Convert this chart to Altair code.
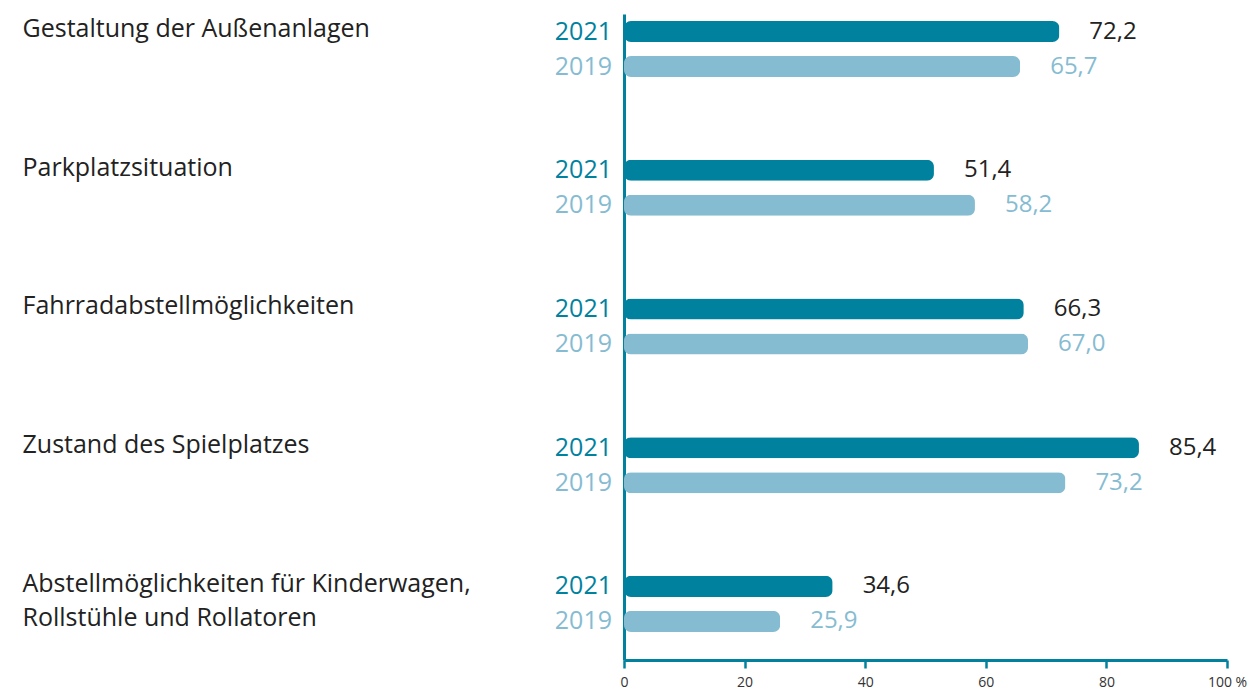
import altair as alt
import pandas as pd

categories = [
    "Gestaltung der Außenanlagen",
    "Parkplatzsituation",
    "Fahrradabstellmöglichkeiten",
    "Zustand des Spielplatzes",
    "Abstellmöglichkeiten für Kinderwagen, Rollstühle und Rollatoren",
]
years = ["2021", "2019"]
values_2021 = [72.2, 51.4, 66.3, 85.4, 34.6]
values_2019 = [65.7, 58.2, 67.0, 73.2, 25.9]
x_ticks = [0, 20, 40, 60, 80, 100]

rows = []
for c, a, b in zip(categories, values_2021, values_2019):
    rows.append({"cat": c, "year": "2021", "value": a})
    rows.append({"cat": c, "year": "2019", "value": b})
df = pd.DataFrame(rows)
df["label"] = df["value"].map(lambda v: f"{v:.1f}".replace(".", ","))

TEAL = "#00829f"
LIGHT = "#86bcd1"
FONT = "Open Sans"

y_enc = alt.Y(
    "cat:N",
    sort=categories,
    scale=alt.Scale(paddingInner=0.495, paddingOuter=0.076, align=0),
    axis=alt.Axis(
        title=None,
        domainColor=TEAL,
        domainWidth=3,
        ticks=False,
        labelAlign="left",
        labelPadding=602,
        labelFontSize=25,
        labelFont=FONT,
        labelColor="#222222",
        labelBaseline="top",
        labelOffset=-32,
        labelLineHeight=34,
        labelLimit=0,
        labelExpr="indexof(datum.label, ', ') > 0 ? [substring(datum.label, 0, indexof(datum.label, ', ') + 1), substring(datum.label, indexof(datum.label, ', ') + 2)] : datum.label",
    ),
)
yoff_enc = alt.YOffset(
    "year:N", sort=years, scale=alt.Scale(paddingInner=0.4, paddingOuter=0.2)
)

base = alt.Chart(df).encode(y=y_enc, yOffset=yoff_enc)

x_enc = alt.X(
    "value:Q",
    scale=alt.Scale(domain=[0, 100], nice=False),
    axis=alt.Axis(
        title=None,
        values=x_ticks,
        grid=False,
        domainColor=TEAL,
        domainWidth=3,
        tickColor=TEAL,
        tickWidth=2.5,
        tickSize=8,
        labelFontSize=14,
        labelFont=FONT,
        labelColor="#333333",
        labelPadding=7,
        labelFlush=False,
        labelExpr="datum.value == 100 ? '100 %' : datum.label",
    ),
)

bars = base.mark_bar(cornerRadius=7).encode(
    x=x_enc,
    color=alt.Color("year:N", scale=alt.Scale(domain=years, range=[TEAL, LIGHT]), legend=None),
)

value_text = base.mark_text(align="left", baseline="middle", dx=30, fontSize=24, font=FONT).encode(
    x=alt.X("value:Q"),
    text="label:N",
    color=alt.Color("year:N", scale=alt.Scale(domain=years, range=["#222222", LIGHT]), legend=None),
)

year_text = base.mark_text(align="right", baseline="middle", dx=-12, fontSize=25, font=FONT).encode(
    x=alt.datum(0),
    text="year:N",
    color=alt.Color("year:N", scale=alt.Scale(domain=years, range=[TEAL, LIGHT]), legend=None),
)

chart = (
    alt.layer(bars, value_text, year_text)
    .resolve_scale(color="independent")
    .properties(
        width=603,
        height=646,
        padding={"left": 14, "top": 6, "right": 0, "bottom": 0},
    )
    .configure_view(stroke=None)
)

chart.save("out.html", embed_options={"renderer": "svg", "actions": False})
